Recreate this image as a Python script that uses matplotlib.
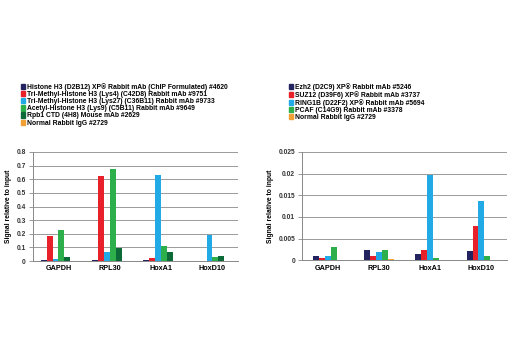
import matplotlib
matplotlib.use("Agg")
import matplotlib.pyplot as plt
import numpy as np

plt.rcParams['font.family'] = ['Liberation Sans', 'DejaVu Sans']
plt.rcParams['font.weight'] = 'bold'

categories = ["GAPDH", "RPL30", "HoxA1", "HoxD10"]

left_labels = [
    "Histone H3 (D2B12) XP\u00ae Rabbit mAb (ChIP Formulated) #4620",
    "Tri-Methyl-Histone H3 (Lys4) (C42D8) Rabbit mAb #9751",
    "Tri-Methyl-Histone H3 (Lys27) (C36B11) Rabbit mAb #9733",
    "Acetyl-Histone H3 (Lys9) (C5B11) Rabbit mAb #9649",
    "Rpb1 CTD (4H8) Mouse mAb #2629",
    "Normal Rabbit IgG #2729",
]
left_values = [
    [0.010, 0.010, 0.008, 0.003],
    [0.182, 0.625, 0.022, 0.003],
    [0.015, 0.070, 0.630, 0.190],
    [0.225, 0.672, 0.110, 0.032],
    [0.033, 0.095, 0.068, 0.036],
    [0.001, 0.001, 0.001, 0.001],
]
left_colors = ["#23235f", "#e8202a", "#22aae6", "#2db04b", "#0b6a38", "#f0a035"]
left_yticks = [0, 0.1, 0.2, 0.3, 0.4, 0.5, 0.6, 0.7, 0.8]
left_yticklabels = ["0", "0.1", "0.2", "0.3", "0.4", "0.5", "0.6", "0.7", "0.8"]

right_labels = [
    "Ezh2 (D2C9) XP\u00ae Rabbit mAb #5246",
    "SUZ12 (D39F6) XP\u00ae Rabbit mAb #3737",
    "RING1B (D22F2) XP\u00ae Rabbit mAb #5694",
    "PCAF (C14G9) Rabbit mAb #3378",
    "Normal Rabbit IgG #2729",
]
right_values = [
    [0.0010, 0.0024, 0.0014, 0.0021],
    [0.0006, 0.0011, 0.0025, 0.0079],
    [0.0010, 0.0020, 0.0196, 0.0137],
    [0.0031, 0.0024, 0.0005, 0.0011],
    [0.0002, 0.0004, 0.0001, 0.0001],
]
right_colors = ["#23235f", "#e8202a", "#22aae6", "#2db04b", "#f0a035"]
right_yticks = [0, 0.005, 0.01, 0.015, 0.02, 0.025]
right_yticklabels = ["0", "0.005", "0.01", "0.015", "0.02", "0.025"]

fig = plt.figure(figsize=(5.2, 3.5), dpi=100)


def draw(rect, values, colors, labels, yticks, yticklabels, leg_x, leg_y):
    ax = fig.add_axes(rect)
    n = len(values)
    w = 0.115
    x = np.arange(len(categories))
    for i, (vals, c) in enumerate(zip(values, colors)):
        ax.bar(x + (i - (n - 1) / 2) * w, vals, width=w, color=c, zorder=3)
    ax.set_xlim(-0.5, len(categories) - 0.5)
    ax.set_ylim(yticks[0], yticks[-1])
    ax.set_yticks(yticks)
    ax.set_yticklabels(yticklabels, fontsize=4.8, fontweight='bold', color='#333333')
    ax.set_xticks(x)
    ax.set_xticklabels(categories, fontsize=5.2, fontweight='bold')
    ax.tick_params(axis='x', length=0, pad=3)
    ax.tick_params(axis='y', length=3, width=0.6, color='#888888', pad=2)
    ax.yaxis.grid(True, color='#9a9a9a', linewidth=0.7, zorder=0)
    for s in ['top', 'right']:
        ax.spines[s].set_visible(False)
    ax.spines['left'].set_color('#888888')
    ax.spines['left'].set_linewidth(0.7)
    ax.spines['bottom'].set_color('#888888')
    ax.spines['bottom'].set_linewidth(0.7)
    ax.set_ylabel("Signal relative to input", fontsize=4.9, fontweight='bold', labelpad=3)
    handles = [plt.Rectangle((0, 0), 1, 1, color=c) for c in colors]
    fig.legend(handles, labels, loc='upper left', bbox_to_anchor=(leg_x, leg_y),
               frameon=False, handlelength=0.6, handleheight=0.8,
               handletextpad=0.35, labelspacing=0.02, borderpad=0, borderaxespad=0,
               prop={'weight': 'bold', 'size': 4.9})
    return ax


draw([0.063, 0.254, 0.395, 0.312], left_values, left_colors, left_labels,
     left_yticks, left_yticklabels, 0.04, 1 - 83 / 350)
draw([0.581, 0.256, 0.394, 0.31], right_values, right_colors, right_labels,
     right_yticks, right_yticklabels, 0.555, 1 - 83 / 350)

fig.savefig("out.png", dpi=100)
